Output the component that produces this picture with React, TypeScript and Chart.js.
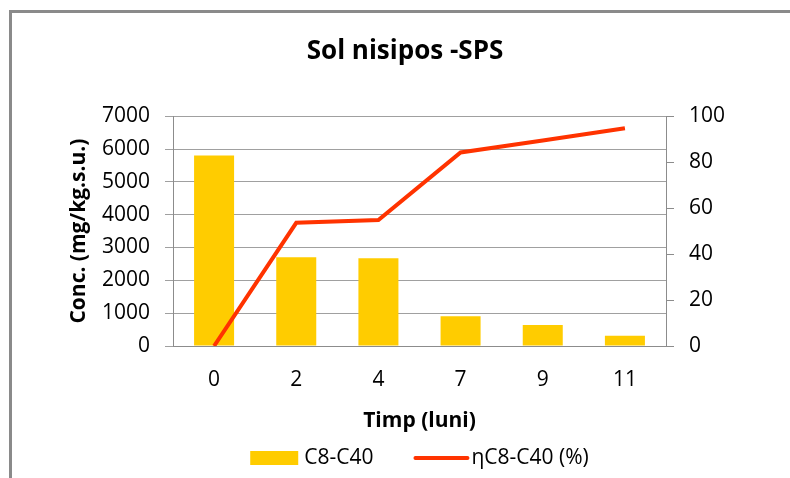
import React, { useEffect, useRef } from 'react';
import { Chart, registerables } from 'chart.js';

Chart.register(...registerables);

const categories = ['0', '2', '4', '7', '9', '11'];
const concentration = [5800, 2700, 2670, 910, 640, 310];
const efficiency = [0, 53.6, 54.8, 84.2, 89.4, 94.8];

const titleText = 'Sol nisipos -SPS';
const xTitle = 'Timp (luni)';
const yTitle = 'Conc. (mg/kg.s.u.)';
const barLabel = 'C8-C40';
const lineLabel = 'ηC8-C40 (%)';

const FONT = "'Open Sans', 'Liberation Sans', sans-serif";
const BAR_COLOR = '#FFCC00';
const LINE_COLOR = '#FF3300';
const GRID = '#a0a0a0';
const AXIS = '#8c8c8c';

const customLegend = {
  id: 'customLegend',
  afterDraw(chart: any) {
    const ctx = chart.ctx;
    const ds = chart.data.datasets;
    ctx.save();
    ctx.font = `21px ${FONT}`;
    ctx.textBaseline = 'middle';
    ctx.fillStyle = '#000';
    const boxW = 48;
    const lineW = 52;
    const gap1 = 6;
    const gap2 = 4;
    const spacing = 42;
    const t1 = ctx.measureText(ds[0].label).width;
    const t2 = ctx.measureText(ds[1].label).width;
    const total = boxW + gap1 + t1 + spacing + lineW + gap2 + t2;
    const cx = (chart.chartArea.left + chart.chartArea.right) / 2;
    let x = cx - total / 2;
    const y = 458;
    ctx.fillStyle = ds[0].backgroundColor;
    ctx.fillRect(x, y - 7, boxW, 14);
    x += boxW + gap1;
    ctx.fillStyle = '#000';
    ctx.fillText(ds[0].label, x, y);
    x += t1 + spacing;
    ctx.strokeStyle = ds[1].borderColor;
    ctx.lineWidth = 4;
    ctx.lineCap = 'round';
    ctx.beginPath();
    ctx.moveTo(x, y);
    ctx.lineTo(x + lineW, y);
    ctx.stroke();
    x += lineW + gap2;
    ctx.fillText(ds[1].label, x, y);
    ctx.restore();
  },
};

const plain = (v: any) => String(v);

export default function App() {
  const ref = useRef<HTMLCanvasElement>(null);

  useEffect(() => {
    if (!ref.current) return;
    const chart = new Chart(ref.current, {
      type: 'bar',
      data: {
        labels: categories,
        datasets: [
          {
            type: 'bar',
            label: barLabel,
            data: concentration,
            backgroundColor: BAR_COLOR,
            yAxisID: 'y',
            order: 1,
            barPercentage: 0.487,
            categoryPercentage: 1,
          },
          {
            type: 'line',
            label: lineLabel,
            data: efficiency,
            borderColor: LINE_COLOR,
            backgroundColor: LINE_COLOR,
            borderWidth: 4,
            pointRadius: 0,
            tension: 0,
            yAxisID: 'y1',
            order: 0,
          },
        ] as any,
      },
      options: {
        responsive: false,
        animation: false,
        layout: { padding: { left: 20, right: 0, top: 0, bottom: 40 } },
        plugins: {
          title: {
            display: true,
            text: titleText,
            color: '#000',
            font: { family: FONT, size: 26, weight: 'bold' },
            padding: { top: 36, bottom: 49 },
          },
          legend: { display: false },
          tooltip: { enabled: false },
        },
        scales: {
          x: {
            grid: { display: false, drawTicks: false },
            border: { display: true, color: AXIS, width: 1 },
            ticks: { color: '#000', font: { family: FONT, size: 21 }, padding: 21 },
            title: {
              display: true,
              text: xTitle,
              color: '#000',
              font: { family: FONT, size: 21, weight: 'bold' },
              padding: { top: 0, bottom: 4 },
            },
            afterFit: (s: any) => {
              s.height = 92;
            },
          },
          y: {
            position: 'left',
            min: 0,
            max: 7000,
            ticks: { stepSize: 1000, color: '#000', font: { family: FONT, size: 21 }, padding: 15, callback: plain },
            grid: { color: GRID, lineWidth: 1, tickLength: 8, drawTicks: true },
            border: { display: true, color: AXIS, width: 1 },
            title: {
              display: true,
              text: yTitle,
              color: '#000',
              font: { family: FONT, size: 21, weight: 'bold' },
              padding: { top: 46, bottom: 0 },
            },
            afterFit: (s: any) => {
              s.width = 153;
            },
          },
          y1: {
            position: 'right',
            min: 0,
            max: 100,
            ticks: { stepSize: 20, color: '#000', font: { family: FONT, size: 21 }, padding: 15, callback: plain },
            grid: { drawOnChartArea: false, color: AXIS, tickLength: 8, drawTicks: true },
            border: { display: true, color: AXIS, width: 1 },
            afterFit: (s: any) => {
              s.width = 124;
            },
          },
        },
      } as any,
      plugins: [customLegend],
    });
    return () => chart.destroy();
  }, []);

  return (
    <div>
      <div
        style={{
          position: 'fixed',
          left: 9,
          top: 10,
          width: 900,
          height: 600,
          border: '3px solid #8a8a8a',
          boxSizing: 'border-box',
        }}
      />
      <canvas
        ref={ref}
        width={790}
        height={478}
        style={{ position: 'fixed', left: 0, top: 0, width: 790, height: 478 }}
      />
    </div>
  );
}
